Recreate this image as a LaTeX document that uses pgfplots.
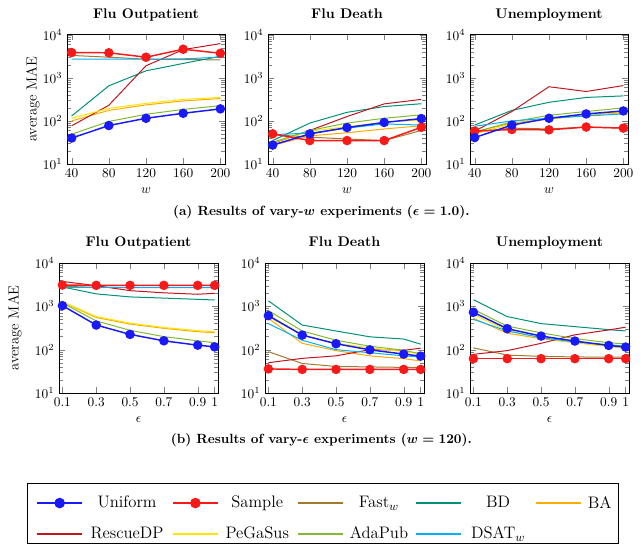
\documentclass[border=0pt]{standalone}
\usepackage{pgfplots}
\usepackage{pgfplotstable}
\pgfplotsset{compat=1.18}

\definecolor{cuni}{RGB}{25,25,250}
\definecolor{csam}{RGB}{250,25,25}
\definecolor{cfast}{RGB}{166,120,45}
\definecolor{cbd}{RGB}{0,145,120}
\definecolor{cba}{RGB}{255,172,0}
\definecolor{cres}{RGB}{192,22,32}
\definecolor{cpeg}{RGB}{255,228,0}
\definecolor{cada}{RGB}{130,185,50}
\definecolor{cdsat}{RGB}{0,175,255}

\pgfplotstableread{
x uni sam fast bd ba res peg ada dsat
40 40 3850 3300 130 100 77 115 49 2700
80 78 3800 3000 650 175 230 195 97 2700
120 115 3000 2700 1450 235 1900 255 142 2700
160 150 4600 2650 2150 290 4500 315 185 2750
200 190 3700 2600 3150 330 6200 350 225 3000
}\FOw
\pgfplotstableread{
x uni sam fast bd ba res peg ada dsat
40 27.5 50 48 35 27 30 31 32 48
80 50 35 42 89 45 60 58 60 52
120 70 35 38 158 53 126 73 89 68
160 92 35 35 215 65 248 93 115 85
200 113 71 60 250 77 315 105 138 80
}\FDw
\pgfplotstableread{
x uni sam fast bd ba res peg ada dsat
40 41 58 55 80 55 58 50 55 75
80 80 63 68 175 90 165 85 95 100
120 115 62 65 270 110 620 110 135 115
160 145 72 72 350 135 480 140 165 130
200 170 68 68 380 155 660 160 200 145
}\UNw
\pgfplotstableread{
x uni sam fast bd ba res peg ada dsat
0.1 1040 3100 2900 2800 1250 3750 1280 1200 2700
0.3 370 3050 2750 1940 550 3000 580 460 2700
0.5 225 3050 2700 1650 390 2300 410 280 2700
0.7 160 3050 2700 1550 310 2050 325 200 2700
0.9 127 3050 2700 1450 260 1900 275 160 2700
1.0 116 3050 2700 1400 245 2000 260 145 2700
}\FOe
\pgfplotstableread{
x uni sam fast bd ba res peg ada dsat
0.1 610 36 90 1340 530 50 580 800 400
0.3 217 35 48 370 140 63 215 270 165
0.5 137 35 41 270 95 72 140 165 100
0.7 99 35 40 198 72 100 110 120 85
0.9 79 35 39 176 62 97 90 97 72
1.0 71 35 39 134 55 108 80 80 68
}\FDe
\pgfplotstableread{
x uni sam fast bd ba res peg ada dsat
0.1 730 62 110 1420 530 78 650 850 500
0.3 305 62 75 580 240 95 280 350 270
0.5 206 62 70 400 180 140 190 245 190
0.7 158 62 68 340 145 220 145 180 150
0.9 125 62 67 290 120 285 120 145 130
1.0 115 62 67 270 105 330 110 135 120
}\UNe

\tikzset{
  sfast/.style={color=cfast, line width=0.75pt},
  sbd/.style={color=cbd, line width=0.75pt},
  sba/.style={color=cba, line width=0.75pt},
  sres/.style={color=cres, line width=0.75pt},
  speg/.style={color=cpeg, line width=0.75pt},
  sada/.style={color=cada, line width=0.75pt},
  sdsat/.style={color=cdsat, line width=0.75pt},
  suni/.style={color=cuni, line width=1.1pt, mark=*, mark size=3pt, mark options={solid, fill=cuni}},
  ssam/.style={color=csam, line width=1.1pt, mark=*, mark size=3pt, mark options={solid, fill=csam}},
}

\newcommand{\allplots}[1]{%
  \addplot[sfast, mark=none] table[x=x,y=fast]{#1};
  \addplot[sbd, mark=none] table[x=x,y=bd]{#1};
  \addplot[sba, mark=none] table[x=x,y=ba]{#1};
  \addplot[sres, mark=none] table[x=x,y=res]{#1};
  \addplot[speg, mark=none] table[x=x,y=peg]{#1};
  \addplot[sada, mark=none] table[x=x,y=ada]{#1};
  \addplot[sdsat, mark=none] table[x=x,y=dsat]{#1};
  \addplot[ssam] table[x=x,y=sam]{#1};
  \addplot[suni] table[x=x,y=uni]{#1};
}

\begin{document}
\begin{tikzpicture}
\useasboundingbox (0,0) rectangle (482.25pt,408pt);

% Row 1
\begin{axis}[name=a1, at={(50.25pt,285pt)}, anchor=south west, title={Flu Outpatient},
  scale only axis, width=118.5pt, height=97pt,
  ymode=log, ymin=10, ymax=10000, ytick={10,100,1000,10000},
  tick align=inside, axis line style={line width=0.7pt},
  title style={font=\fontsize{10.5}{12}\selectfont\bfseries, at={(0.5,1)}, anchor=base, yshift=6.3pt},
  xlabel style={at={(axis description cs:0.5,0)}, anchor=base, yshift=-22pt},
  xmin=35, xmax=205, xtick={40,80,120,160,200}, xlabel={$w$}]
\allplots{\FOw}
\end{axis}
\node[rotate=90, font=\fontsize{11}{13}\selectfont] at ([xshift=-25.5pt]a1.west) {average MAE};
\begin{axis}[at={(201pt,285pt)}, anchor=south west, title={Flu Death},
  scale only axis, width=118.5pt, height=97pt,
  ymode=log, ymin=10, ymax=10000, ytick={10,100,1000,10000},
  tick align=inside, axis line style={line width=0.7pt},
  title style={font=\fontsize{10.5}{12}\selectfont\bfseries, at={(0.5,1)}, anchor=base, yshift=6.3pt},
  xlabel style={at={(axis description cs:0.5,0)}, anchor=base, yshift=-22pt},
  xmin=35, xmax=205, xtick={40,80,120,160,200}, xlabel={$w$}]
\allplots{\FDw}
\end{axis}
\begin{axis}[at={(352.5pt,285pt)}, anchor=south west, title={Unemployment},
  scale only axis, width=118.5pt, height=97pt,
  ymode=log, ymin=10, ymax=10000, ytick={10,100,1000,10000},
  tick align=inside, axis line style={line width=0.7pt},
  title style={font=\fontsize{10.5}{12}\selectfont\bfseries, at={(0.5,1)}, anchor=base, yshift=6.3pt},
  xlabel style={at={(axis description cs:0.5,0)}, anchor=base, yshift=-22pt},
  xmin=35, xmax=205, xtick={40,80,120,160,200}, xlabel={$w$}]
\allplots{\UNw}
\end{axis}

\node[font=\bfseries\boldmath] at (241pt,249pt) {(a) Results of vary-$w$ experiments ($\epsilon = 1.0$).};

% Row 2
\begin{axis}[name=b1, at={(44.25pt,113.25pt)}, anchor=south west, title={Flu Outpatient},
  scale only axis, width=119.25pt, height=97.5pt,
  ymode=log, ymin=10, ymax=10000, ytick={10,100,1000,10000},
  tick align=inside, axis line style={line width=0.7pt},
  title style={font=\fontsize{10.5}{12}\selectfont\bfseries, at={(0.5,1)}, anchor=base, yshift=6.3pt},
  xlabel style={at={(axis description cs:0.5,0)}, anchor=base, yshift=-22pt},
  xmin=0.08, xmax=1.02, xtick={0.1,0.3,0.5,0.7,0.9,1}, xticklabels={0.1,0.3,0.5,0.7,0.9,1}, xlabel={$\epsilon$}]
\allplots{\FOe}
\end{axis}
\node[rotate=90, font=\fontsize{11}{13}\selectfont] at ([xshift=-33pt]b1.west) {average MAE};
\begin{axis}[at={(198.75pt,113.25pt)}, anchor=south west, title={Flu Death},
  scale only axis, width=119.25pt, height=97.5pt,
  ymode=log, ymin=10, ymax=10000, ytick={10,100,1000,10000},
  tick align=inside, axis line style={line width=0.7pt},
  title style={font=\fontsize{10.5}{12}\selectfont\bfseries, at={(0.5,1)}, anchor=base, yshift=6.3pt},
  xlabel style={at={(axis description cs:0.5,0)}, anchor=base, yshift=-22pt},
  xmin=0.08, xmax=1.02, xtick={0.1,0.3,0.5,0.7,0.9,1}, xticklabels={0.1,0.3,0.5,0.7,0.9,1}, xlabel={$\epsilon$}]
\allplots{\FDe}
\end{axis}
\begin{axis}[at={(352.5pt,113.25pt)}, anchor=south west, title={Unemployment},
  scale only axis, width=119.25pt, height=97.5pt,
  ymode=log, ymin=10, ymax=10000, ytick={10,100,1000,10000},
  tick align=inside, axis line style={line width=0.7pt},
  title style={font=\fontsize{10.5}{12}\selectfont\bfseries, at={(0.5,1)}, anchor=base, yshift=6.3pt},
  xlabel style={at={(axis description cs:0.5,0)}, anchor=base, yshift=-22pt},
  xmin=0.08, xmax=1.02, xtick={0.1,0.3,0.5,0.7,0.9,1}, xticklabels={0.1,0.3,0.5,0.7,0.9,1}, xlabel={$\epsilon$}]
\allplots{\UNe}
\end{axis}

\node[font=\bfseries\boldmath] at (241pt,78pt) {(b) Results of vary-$\epsilon$ experiments ($w = 120$).};

% Legend
\draw[line width=0.6pt] (20.25pt,0.5pt) rectangle (463.5pt,45.75pt);
\pgfplotsset{
  /pgfplots/mylegbox/.style={hide axis, scale only axis, width=1pt, height=1pt,
    xmin=0, xmax=1, ymin=0, ymax=1,
    legend columns=-1, legend cell align=center,
    legend style={at={(0,0)}, anchor=west, draw=none, fill=none, inner sep=0pt,
      nodes={inner sep=0pt},
      font=\fontsize{12.5}{14}\selectfont, column sep=4.5pt,
      /tikz/every even column/.append style={column sep=5.25pt}},
    legend image code/.code={\draw[mark repeat=2,mark phase=2] plot coordinates {(0pt,0pt)(16.9pt,0pt)(33.75pt,0pt)};}},
}
\begin{axis}[mylegbox, at={(27pt,30.7pt)}, anchor=south west]
\addlegendimage{color=cuni, line width=1.3pt, mark=*, mark size=3.3pt, mark options={solid, fill=cuni}}\addlegendentry{\makebox[57pt][c]{Uniform}}
\addlegendimage{color=csam, line width=1.3pt, mark=*, mark size=3.3pt, mark options={solid, fill=csam}}\addlegendentry{\makebox[48.75pt][c]{Sample}}
\addlegendimage{color=cfast, line width=1.3pt}\addlegendentry{\makebox[44.25pt][c]{Fast$_w$}}
\addlegendimage{color=cbd, line width=1.3pt}\addlegendentry{\makebox[45pt][c]{BD}}
\addlegendimage{color=cba, line width=1.3pt}\addlegendentry{BA}
\end{axis}
\begin{axis}[mylegbox, at={(27pt,7.7pt)}, anchor=south west]
\addlegendimage{color=cres, line width=1.3pt}\addlegendentry{\makebox[57pt][c]{RescueDP}}
\addlegendimage{color=cpeg, line width=1.3pt}\addlegendentry{\makebox[48.75pt][c]{PeGaSus}}
\addlegendimage{color=cada, line width=1.3pt}\addlegendentry{\makebox[44.25pt][c]{AdaPub}}
\addlegendimage{color=cdsat, line width=1.3pt}\addlegendentry{\makebox[45pt][c]{DSAT$_w$}}
\end{axis}
\end{tikzpicture}
\end{document}
